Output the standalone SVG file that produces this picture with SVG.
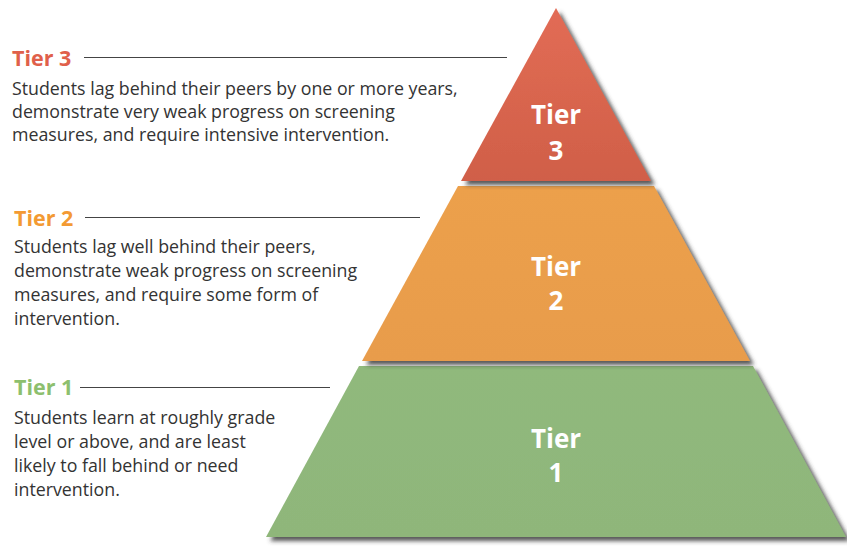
<svg xmlns="http://www.w3.org/2000/svg" width="847" height="546" viewBox="0 0 847 546">
<defs>
<filter id="sh" x="-10%" y="-10%" width="130%" height="130%">
<feDropShadow dx="4" dy="4" stdDeviation="2" flood-color="#3a3a3a" flood-opacity="0.85"/>
</filter>
<linearGradient id="g3" x1="0" y1="0" x2="0" y2="1"><stop offset="0" stop-color="#E26C55"/><stop offset="1" stop-color="#D05F48"/></linearGradient>
<linearGradient id="g2" x1="0" y1="0" x2="0" y2="1"><stop offset="0" stop-color="#ECA04C"/><stop offset="1" stop-color="#E89C4C"/></linearGradient>
<linearGradient id="g1" x1="0" y1="0" x2="0" y2="1"><stop offset="0" stop-color="#90B97C"/><stop offset="1" stop-color="#8FB67A"/></linearGradient>
</defs>
<style>
.body{font-family:"Open Sans","Noto Sans",sans-serif;font-size:17.8px;fill:#333}
.hd{font-family:"Open Sans","Noto Sans",sans-serif;font-size:21.5px;font-weight:bold}
.tl{font-family:"Open Sans","Noto Sans",sans-serif;font-size:26px;font-weight:bold;fill:#fff;text-anchor:middle}
.rule{stroke:#444;stroke-width:1.2}
</style>
<rect width="847" height="546" fill="#fff"/>
<g id="tier1">
<polygon points="359,366 753,366 846,537 266,537" fill="url(#g1)" filter="url(#sh)"/>
<text class="tl" x="556" y="448">Tier</text>
<text class="tl" x="556" y="482">1</text>
</g>
<g id="tier2">
<polygon points="458,186 654,186 750,361 362,361" fill="url(#g2)" filter="url(#sh)"/>
<text class="tl" x="556" y="276">Tier</text>
<text class="tl" x="556" y="310">2</text>
</g>
<g id="tier3">
<polygon points="556,8 651,181 461,181" fill="url(#g3)" filter="url(#sh)"/>
<text class="tl" x="556" y="124">Tier</text>
<text class="tl" x="556" y="160">3</text>
</g>
<g id="connectors">
<line class="rule" x1="84" y1="57.5" x2="507" y2="57.5"/>
<line class="rule" x1="85" y1="217.5" x2="420" y2="217.5"/>
<line class="rule" x1="80" y1="387.5" x2="330" y2="387.5"/>
</g>
<g id="label3">
<text class="hd" x="12" y="66" fill="#E0604A">Tier 3</text>
<text class="body" x="12" y="95">Students lag behind their peers by one or more years,</text>
<text class="body" x="12" y="118">demonstrate very weak progress on screening</text>
<text class="body" x="12" y="141">measures, and require intensive intervention.</text>
</g>
<g id="label2">
<text class="hd" x="14" y="226" fill="#F39A33">Tier 2</text>
<text class="body" x="14" y="253">Students lag well behind their peers,</text>
<text class="body" x="14" y="277">demonstrate weak progress on screening</text>
<text class="body" x="14" y="301">measures, and require some form of</text>
<text class="body" x="14" y="325">intervention.</text>
</g>
<g id="label1">
<text class="hd" x="14" y="395" fill="#8DBF6E">Tier 1</text>
<text class="body" x="14" y="424">Students learn at roughly grade</text>
<text class="body" x="14" y="448">level or above, and are least</text>
<text class="body" x="14" y="472">likely to fall behind or need</text>
<text class="body" x="14" y="496">intervention.</text>
</g>
</svg>
